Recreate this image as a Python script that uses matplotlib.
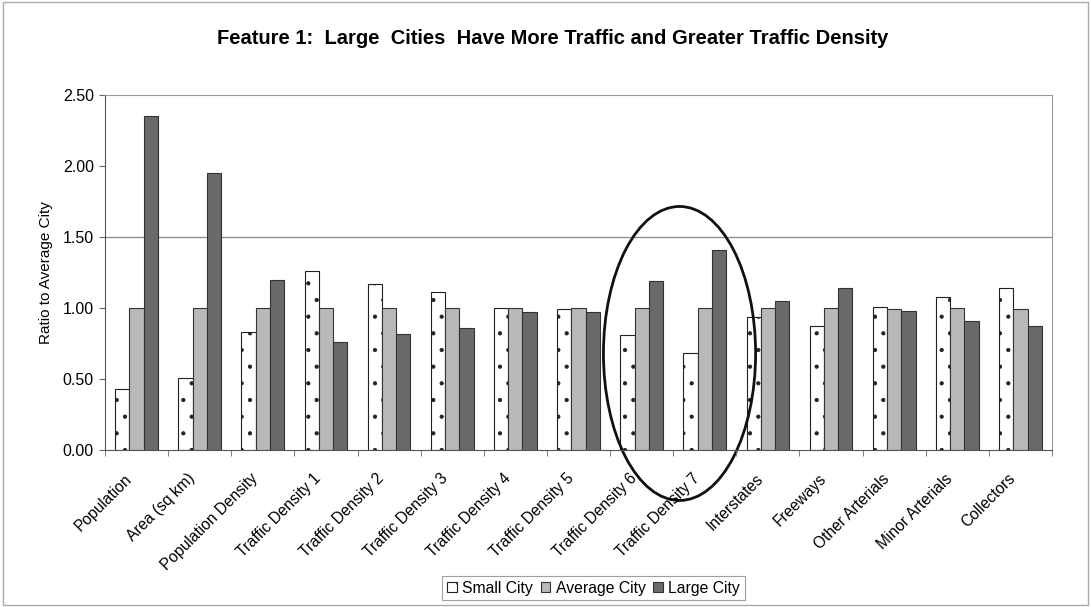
import numpy as np
import matplotlib
matplotlib.use("Agg")
import matplotlib.pyplot as plt
from matplotlib.patches import Ellipse, Rectangle
from matplotlib.transforms import ScaledTranslation

plt.rcParams['font.family'] = ['Liberation Sans', 'DejaVu Sans']
plt.rcParams['hatch.linewidth'] = 0.6

categories = ["Population", "Area (sq km)", "Population Density", "Traffic Density 1",
              "Traffic Density 2", "Traffic Density 3", "Traffic Density 4", "Traffic Density 5",
              "Traffic Density 6", "Traffic Density 7", "Interstates", "Freeways",
              "Other Arterials", "Minor Arterials", "Collectors"]
small_city = [0.43, 0.51, 0.83, 1.26, 1.17, 1.11, 1.00, 0.99, 0.81, 0.68, 0.94, 0.87, 1.01, 1.08, 1.14]
average_city = [1.00, 1.00, 1.00, 1.00, 1.00, 1.00, 1.00, 1.00, 1.00, 1.00, 1.00, 1.00, 0.99, 1.00, 0.99]
large_city = [2.35, 1.95, 1.20, 0.76, 0.82, 0.86, 0.97, 0.97, 1.19, 1.41, 1.05, 1.14, 0.98, 0.91, 0.87]

fig = plt.figure(figsize=(10.91, 6.07), dpi=100)
ax = fig.add_axes([0.0962, 0.2586, 0.8681, 0.5849])

x = np.arange(len(categories))
w = 0.225
ax.bar(x - w, small_city, w, color="white", edgecolor="#222222", linewidth=0.8,
       hatch=".", label="Small City")
ax.bar(x, average_city, w, color="#b9b9b9", edgecolor="#333333", linewidth=0.8,
       label="Average City")
ax.bar(x + w, large_city, w, color="#696969", edgecolor="#333333", linewidth=0.8,
       label="Large City")

ax.set_xlim(-0.5, len(categories) - 0.5)
ax.set_ylim(0, 2.5)
ax.set_yticks([0, 0.5, 1.0, 1.5, 2.0, 2.5])
ax.set_yticklabels(["0.00", "0.50", "1.00", "1.50", "2.00", "2.50"], fontsize=11.5)
ax.axhline(1.5, color="#888888", linewidth=0.9, zorder=0)

ax.set_xticks(x)
ax.set_xticklabels(categories, rotation=45, ha="right", rotation_mode="anchor", fontsize=11.2)
ax.set_xticks(np.arange(-0.5, len(categories)), minor=True)
ax.tick_params(axis="x", which="major", length=0, pad=15)
ax.tick_params(axis="x", which="minor", length=4, color="#666666")
ax.tick_params(axis="y", length=4, color="#666666", pad=4)
shift = ScaledTranslation(-9 / 72, 0, fig.dpi_scale_trans)
for lab in ax.get_xticklabels():
    lab.set_transform(lab.get_transform() + shift)

for s in ["top", "right"]:
    ax.spines[s].set_color("#999999")
for s in ["left", "bottom"]:
    ax.spines[s].set_color("#555555")

ax.set_ylabel("Ratio to Average City", fontsize=11, labelpad=7)

fig.text(0.507, 0.936, "Feature 1:  Large  Cities  Have More Traffic and Greater Traffic Density",
         ha="center", va="center", fontsize=14.5, fontweight="bold")

# circle around Traffic Density 6 and 7
ax.add_patch(Ellipse((8.6, 0.68), 2.41, 2.07, fill=False, edgecolor="#111111",
                     linewidth=2, clip_on=False))

leg = fig.legend(loc="lower center", bbox_to_anchor=(0.544, -0.002), ncol=3, fontsize=11.3,
                 frameon=True, fancybox=False, edgecolor="#888888", handlelength=0.6,
                 handleheight=0.6, handletextpad=0.35, columnspacing=0.5, borderpad=0.3)
leg.get_frame().set_linewidth(0.8)

fig.patches.append(Rectangle((0.003, 0.003), 0.994, 0.994, transform=fig.transFigure,
                             fill=False, edgecolor="#aaaaaa", linewidth=1))

fig.savefig("out.png", dpi=100)
